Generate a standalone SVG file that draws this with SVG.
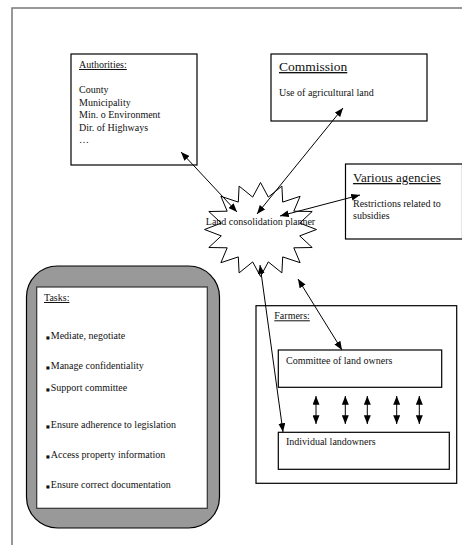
<svg xmlns="http://www.w3.org/2000/svg" width="462" height="545" viewBox="0 0 462 545">
<defs>
<style>
text{font-family:"Liberation Serif","Times New Roman",serif;font-size:10px;fill:#111}
.h{font-size:13.5px}
.u{text-decoration:underline}
.box{fill:#fff;stroke:#000;stroke-width:1.2}
.ln{stroke:#000;stroke-width:1;fill:none;marker-start:url(#ah);marker-end:url(#ah)}
.bul{font-family:"DejaVu Sans",sans-serif;font-size:4px}
</style>
<marker id="ah" viewBox="0 0 10 8" refX="10" refY="4" markerWidth="9" markerHeight="7" markerUnits="userSpaceOnUse" orient="auto-start-reverse">
<path d="M0,0 L10,4 L0,8 Z" fill="#000"/>
</marker>
</defs>
<rect width="462" height="545" fill="#fff"/>
<path d="M12,545 V8 H462" fill="none" stroke="#777" stroke-width="1.5"/>

<g id="authorities">
<rect class="box" x="71" y="54" width="126" height="111"/>
<text x="79" y="68" class="u">Authorities:</text>
<text x="79" y="93">County</text>
<text x="79" y="105.5">Municipality</text>
<text x="79" y="118">Min. o Environment</text>
<text x="79" y="130.5">Dir. of Highways</text>
<text x="79" y="143">…</text>
</g>

<g id="commission">
<rect class="box" x="271" y="54" width="156" height="67"/>
<text x="279" y="71" class="h u">Commission</text>
<text x="279" y="96">Use of agricultural land</text>
</g>

<g id="agencies">
<rect class="box" x="345.5" y="164" width="117" height="75"/>
<text x="353" y="182" class="h u" style="font-size:13px">Various agencies</text>
<text x="353" y="207">Restrictions related to</text>
<text x="353" y="219">subsidies</text>
</g>

<g id="planner">
<polygon fill="#fff" stroke="#000" stroke-width="1" points="260.5,182.5 268.3,197.1 281.9,186.1 282.7,202.1 300.1,196.3 293.8,211.2 312.2,211.5 299.7,223.1 316.5,229.5 299.7,235.9 312.2,247.5 293.8,247.8 300.1,262.7 282.7,256.9 281.9,272.9 268.3,261.9 260.5,276.5 252.7,261.9 239.1,272.9 238.3,256.9 220.9,262.7 227.2,247.8 208.8,247.5 221.3,235.9 204.5,229.5 221.3,223.1 208.8,211.5 227.2,211.2 220.9,196.3 238.3,202.1 239.1,186.1 252.7,197.1"/>
<text x="260.5" y="225" text-anchor="middle">Land consolidation planner</text>
</g>

<g id="tasks">
<rect x="26.5" y="266" width="193" height="262" rx="31" ry="31" fill="#999" stroke="#000" stroke-width="1.2"/>
<rect x="36.7" y="287" width="170.6" height="221.3" fill="#fff" stroke="#333" stroke-width="1.2"/>
<text x="44" y="301" class="u">Tasks:</text>
<text x="46" y="339"><tspan class="bul">■</tspan><tspan dx="1">Mediate, negotiate</tspan></text>
<text x="46" y="369"><tspan class="bul">■</tspan><tspan dx="1">Manage confidentiality</tspan></text>
<text x="46" y="390.5"><tspan class="bul">■</tspan><tspan dx="1">Support committee</tspan></text>
<text x="46" y="428"><tspan class="bul">■</tspan><tspan dx="1">Ensure adherence to legislation</tspan></text>
<text x="46" y="457.5"><tspan class="bul">■</tspan><tspan dx="1">Access property information</tspan></text>
<text x="46" y="487.5"><tspan class="bul">■</tspan><tspan dx="1">Ensure correct documentation</tspan></text>
</g>

<g id="farmers">
<rect class="box" x="256" y="305.7" width="200.7" height="177.6"/>
<text x="274.3" y="319.3" class="u">Farmers:</text>
</g>

<g id="committee">
<rect class="box" x="278.3" y="350" width="163.4" height="37.3"/>
<text x="286" y="364">Committee of land owners</text>
</g>

<g id="landowners">
<rect class="box" x="278.3" y="432.3" width="171" height="37"/>
<text x="286" y="445">Individual landowners</text>
</g>

<g id="connectors">
<line class="ln" x1="237" y1="212" x2="181" y2="152"/>
<line class="ln" x1="257" y1="214" x2="343" y2="108"/>
<line class="ln" x1="280" y1="216" x2="360" y2="195"/>
<line class="ln" x1="260" y1="265" x2="283" y2="432"/>
<line class="ln" x1="298" y1="279" x2="342" y2="350"/>
<line class="ln" x1="316" y1="396" x2="316" y2="424"/>
<line class="ln" x1="345.3" y1="396" x2="345.3" y2="424"/>
<line class="ln" x1="367.3" y1="396" x2="367.3" y2="424"/>
<line class="ln" x1="396.7" y1="396" x2="396.7" y2="424"/>
<line class="ln" x1="419.3" y1="396" x2="419.3" y2="424"/>
</g>
</svg>
